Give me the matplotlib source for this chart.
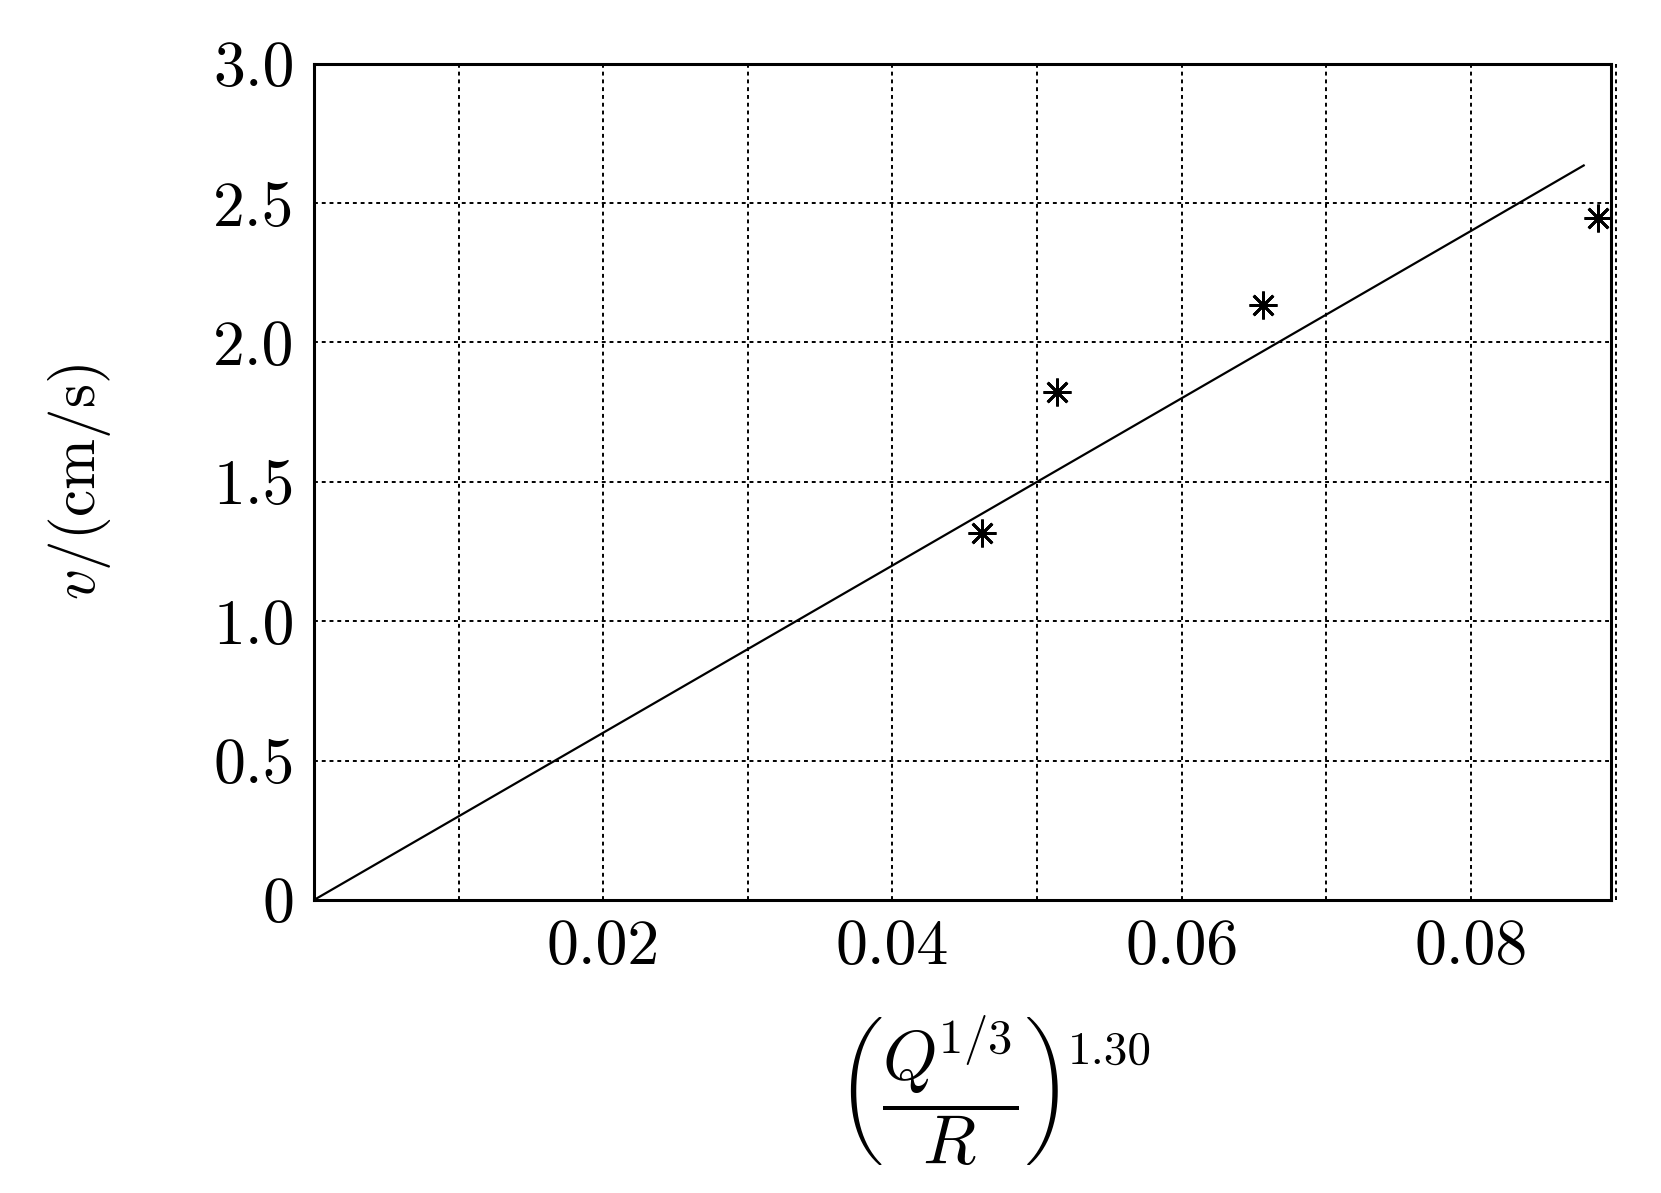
import matplotlib
matplotlib.use("Agg")
import matplotlib.pyplot as plt

plt.rcParams["font.family"] = "serif"
plt.rcParams["font.serif"] = ["cmr10", "DejaVu Serif"]
plt.rcParams["mathtext.fontset"] = "cm"
plt.rcParams["axes.formatter.use_mathtext"] = True

# fitted line
line_x = [0.0, 0.01, 0.02, 0.03, 0.04, 0.05, 0.06, 0.07, 0.08, 0.0878]
line_y = [0.0, 0.30, 0.60, 0.90, 1.20, 1.50, 1.80, 2.10, 2.40, 2.635]

# measured points
pts_x = [0.0462, 0.0514, 0.0656, 0.0888]
pts_y = [1.318, 1.823, 2.134, 2.446]

xticks = [0.02, 0.04, 0.06, 0.08]
xtick_labels = ["0.02", "0.04", "0.06", "0.08"]
yticks = [0, 0.5, 1.0, 1.5, 2.0, 2.5, 3.0]
ytick_labels = ["0", "0.5", "1.0", "1.5", "2.0", "2.5", "3.0"]
grid_x = [0.01, 0.02, 0.03, 0.04, 0.05, 0.06, 0.07, 0.08, 0.09]

fig = plt.figure(figsize=(16.61, 11.93), dpi=100)
ax = fig.add_axes([0.189, 0.2456, 0.781, 0.701])

ax.plot(line_x, line_y, color="black", lw=1.6)
ax.plot(pts_x, pts_y, linestyle="none", marker=(8, 2, 0), markersize=20,
        markeredgewidth=2.0, color="black")

# dotted grid
for gx in grid_x:
    ax.axvline(gx, color="black", ls=(0, (2, 2)), lw=1.4, clip_on=False, zorder=0)
for gy in yticks[1:-1]:
    ax.axhline(gy, color="black", ls=(0, (2, 2)), lw=1.4, zorder=0)

ax.set_xlim(0, 0.0897)
ax.set_ylim(0, 3.0)
ax.set_xticks(xticks)
ax.set_xticklabels(xtick_labels)
ax.set_yticks(yticks)
ax.set_yticklabels(ytick_labels)
ax.tick_params(length=0, labelsize=46, pad=14)
for s in ax.spines.values():
    s.set_linewidth(2.2)

ax.set_ylabel(r"$v$/(cm/s)", fontsize=44, labelpad=72)

# x label: big fraction in parentheses, exponent placed at its top right
frac = fig.text(0.571, 0.0855, r"$\left(\dfrac{Q^{\!1/3}}{R}\right)$",
                fontsize=50, ha="center", va="center")
fig.canvas.draw()
bb = frac.get_window_extent()
W, H = fig.bbox.width, fig.bbox.height
fig.text((bb.x1 + 8) / W, (bb.y1 - 18) / H, "1.30", fontsize=34,
         ha="left", va="top")

fig.savefig("out.png", dpi=100)
